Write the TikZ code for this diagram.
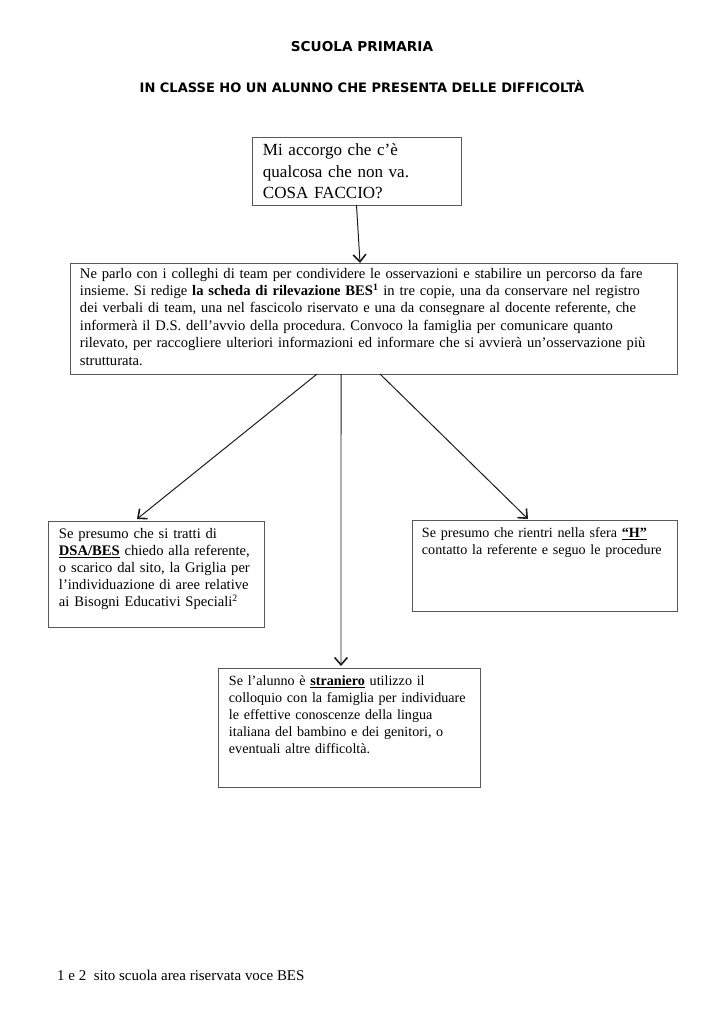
\documentclass[tikz,border=0pt]{standalone}
\usepackage{fontspec}
\setmainfont{Liberation Serif}
\newfontfamily\titlefont{DejaVu Sans}
\usetikzlibrary{arrows.meta,calc}
\frenchspacing

% text kept at the top of a box of fixed height
\newcommand{\boxtext}[2]{\vbox to #1{\noindent #2\par\vfil}}

\begin{document}
\begin{tikzpicture}[x=0.8222pt,y=-0.8222pt,>={Straight Barb[length=6pt,width=10.5pt,line width=1.3pt]},
  box/.style={draw=black!65, line width=0.7pt, anchor=north west, align=left,
    inner xsep=9pt, inner ysep=6pt, outer sep=0pt, font=\fontsize{12}{14}\selectfont},
  heading/.style={font=\titlefont\bfseries\fontsize{11.2}{13}\selectfont},
  link/.style={->, line width=0.8pt, black!90}]
  \useasboundingbox (0,0) rectangle (724,1024);

  \node[heading] (school) at (362,47) {SCUOLA PRIMARIA};
  \node[heading, font=\titlefont\bfseries\fontsize{10.7}{13}\selectfont] (subject) at (362,87) {IN CLASSE HO UN ALUNNO CHE PRESENTA DELLE DIFFICOLTÀ};

  \node[box, text width=153.8pt, inner ysep=5.5pt, font=\fontsize{14}{17.7}\selectfont] (notice) at (252,137)
    {\boxtext{44.9pt}{Mi accorgo che c’è\\ qualcosa che non va.\\ COSA FACCIO?}};
  \node[box, text width=482.7pt, inner xsep=8.2pt, inner ysep=4pt, font=\fontsize{12}{14.3}\selectfont] (team) at (70,263)
    {\boxtext{83.3pt}{Ne parlo con i colleghi di team per condividere le osservazioni e stabilire un percorso da fare\\
    insieme. Si redige \textbf{la scheda di rilevazione BES\textsuperscript{1}} in tre copie, una da conservare nel registro\\
    dei verbali di team, una nel fascicolo riservato e una da consegnare al docente referente, che\\
    informerà il D.S. dell'avvio della procedura. Convoco la famiglia per comunicare quanto\\
    rilevato, per raccogliere ulteriori informazioni ed informare che si avvierà un'osservazione più\\
    strutturata.}};
  \node[box, text width=159.6pt] (dsa) at (48,521)
    {\boxtext{75.2pt}{Se presumo che si tratti di\\
    \textbf{\underline{DSA/BES}} chiedo alla referente,\\
    o scarico dal sito, la Griglia per\\
    l’individuazione di aree relative\\
    ai Bisogni Educativi Speciali\textsuperscript{2}}};
  \node[box, text width=201.5pt, inner xsep=8.2pt, font=\fontsize{11.6}{14}\selectfont] (handicap) at (412,520)
    {\boxtext{62.8pt}{\hyphenpenalty=10000 Se presumo che rientri nella sfera \textbf{\underline{“H”}}\\
    contatto la referente e seguo le procedure}};
  \node[box, text width=197.4pt, font=\fontsize{11.6}{14}\selectfont] (foreign) at (218,668)
    {\boxtext{85.8pt}{\hyphenpenalty=10000 Se l’alunno è \textbf{\underline{straniero}} utilizzo il\\
    colloquio con la famiglia per individuare\\
    le effettive conoscenze della lingua\\
    italiana del bambino e dei genitori, o\\
    eventuali altre difficoltà.}};

  \node[anchor=west, inner sep=0pt, font=\fontsize{12.3}{14}\selectfont] (note) at (57,975) {1 e 2\ \ sito scuola area riservata voce BES};

  \draw[link] (notice.south) -- ($(team.north)+(-13.5,0)$);
  \draw[link] ($(team.south)+(-56.5,0)$) -- ($(dsa.north)+(-19,-2)$);
  \draw[link] ($(team.south)+(-32.5,0)$) -- ($(foreign.north)+(-8,-2)$);
  \draw[link] ($(team.south)+(6.5,0)$) -- ($(handicap.north)+(-16.5,-1)$);
\end{tikzpicture}
\end{document}
